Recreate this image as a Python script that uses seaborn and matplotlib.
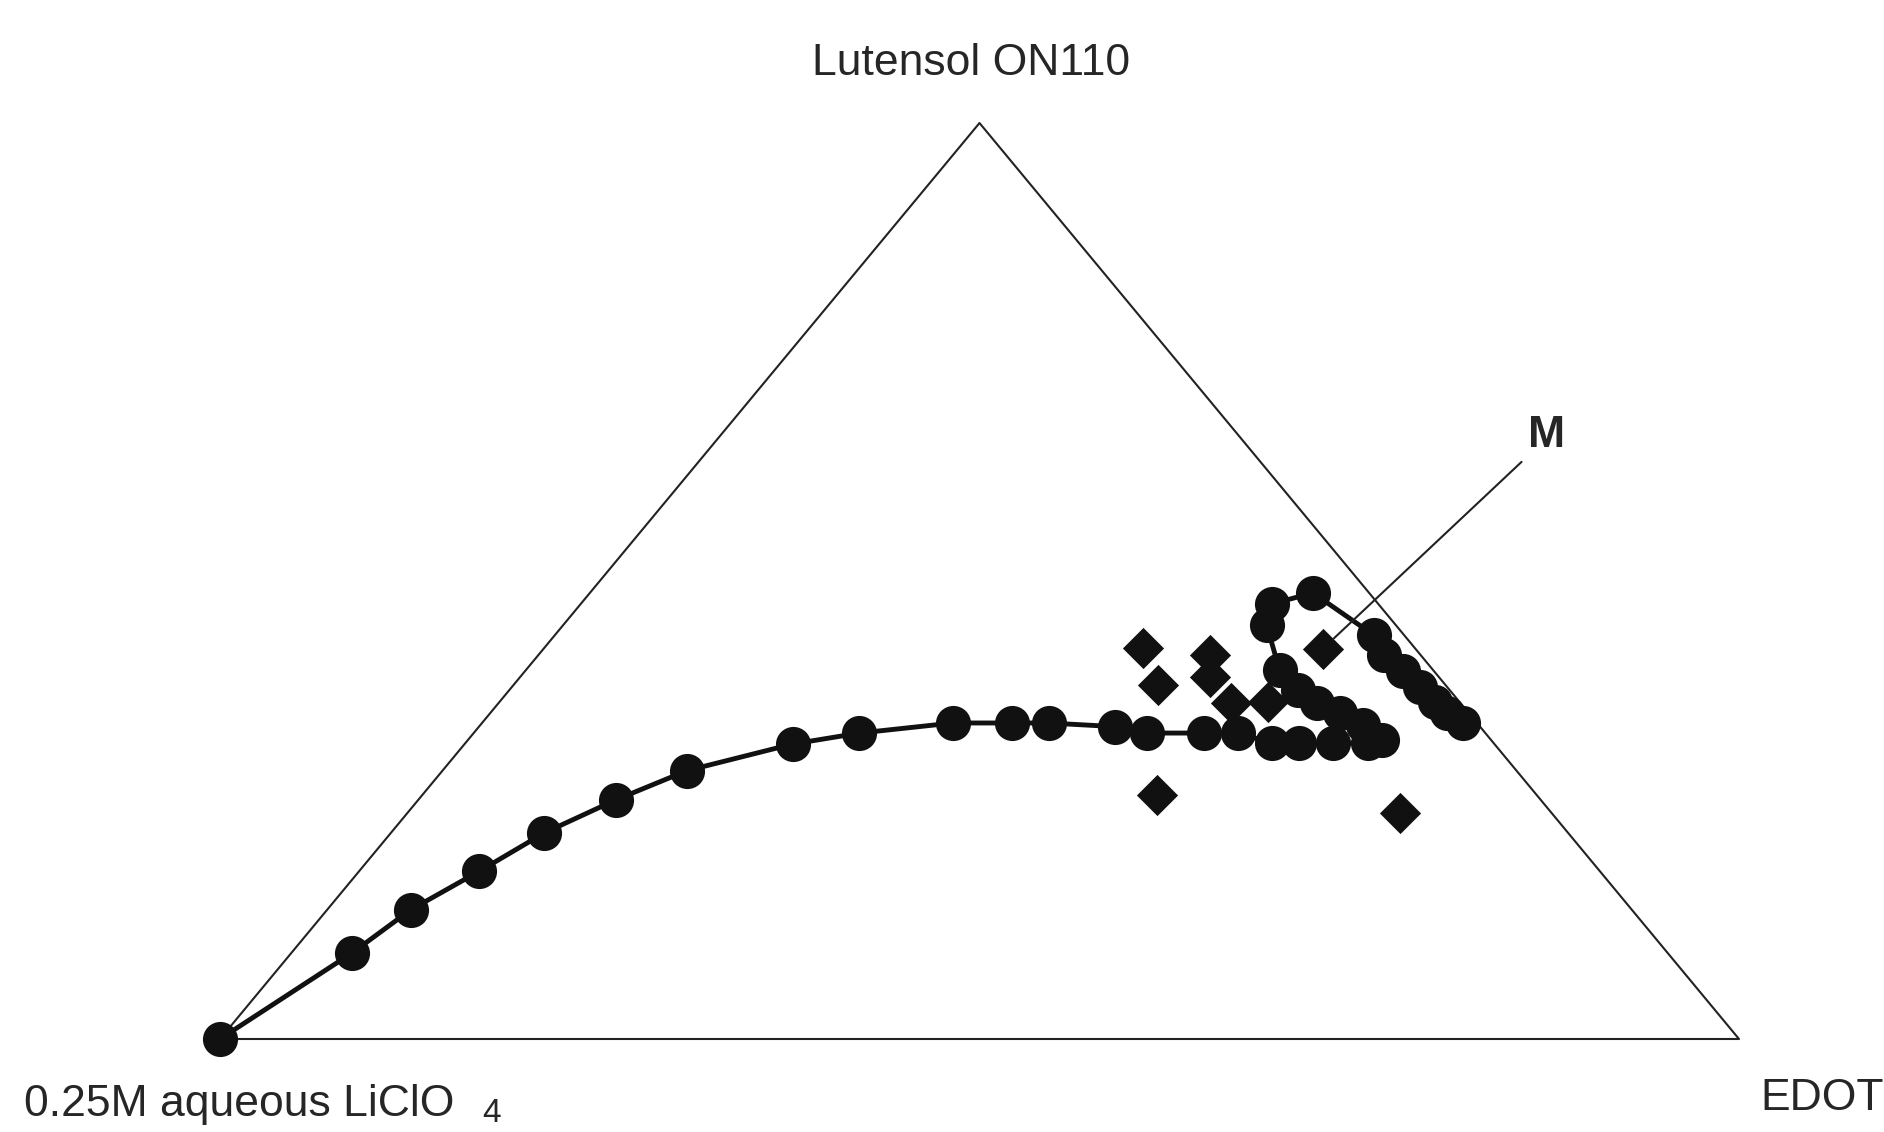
import numpy as np
import pandas as pd
import matplotlib
matplotlib.use("Agg")
import matplotlib.pyplot as plt
import seaborn as sns
from matplotlib import font_manager

# Ternary compositions in wt% (water = 100 - EDOT - Lutensol)
# Phase boundary curve
curve_edot = [0.0, 4.0, 5.5, 7.9, 10.1, 13.0, 16.1, 21.6, 25.4, 31.0, 34.9, 37.3,
              41.9, 44.3, 48.1, 50.3, 53.1, 54.9, 57.1, 59.4, 60.2,
              58.1, 55.9, 53.9, 51.9, 49.6, 46.3, 45.5, 47.6,
              53.9, 55.7, 57.8, 59.8, 61.6, 63.0, 64.6]
curve_lutensol = [0.0, 9.4, 14.1, 18.3, 22.5, 26.1, 29.3, 32.2, 33.4, 34.5, 34.5, 34.5,
                  34.1, 33.4, 33.4, 33.4, 32.3, 32.3, 32.3, 32.3, 32.6,
                  34.3, 35.6, 36.7, 38.1, 40.3, 45.2, 47.5, 48.7,
                  44.1, 41.9, 40.2, 38.4, 36.8, 35.6, 34.5]

# Single compositions (diamonds); index 6 is the one marked "M"
diamond_edot = [39.4, 42.4, 44.2, 45.4, 48.2, 50.6, 51.3, 48.4, 65.3]
diamond_lutensol = [42.7, 38.7, 41.9, 39.5, 36.7, 36.8, 42.6, 26.6, 24.7]
m_index = 6

corner_labels = ["Lutensol ON110", "0.25M aqueous LiClO", "EDOT"]


def to_xy(edot, lutensol):
    # water at the left corner, EDOT at the right, Lutensol at the top
    b = np.asarray(edot, dtype=float) / 100
    c = np.asarray(lutensol, dtype=float) / 100
    return b + c / 2, c


sns.set_style("white")
available = {f.name for f in font_manager.fontManager.ttflist}
if "Liberation Sans Narrow" in available:
    label_font, label_size = "Liberation Sans Narrow", 37
else:
    label_font, label_size = "Liberation Sans", 32
plt.rcParams["font.family"] = [label_font, "DejaVu Sans"]

cx, cy = to_xy(curve_edot, curve_lutensol)
dx, dy = to_xy(diamond_edot, diamond_lutensol)
curve = pd.DataFrame({"x": cx, "y": cy})
points = pd.DataFrame({"x": dx, "y": dy})

fig = plt.figure(figsize=(18.84, 11.32), dpi=100)
ax = fig.add_axes([220 / 1884, 93 / 1132, 1519 / 1884, 916 / 1132])

# triangle frame
tx, ty = to_xy([0, 100, 0, 0], [0, 0, 100, 0])
ax.plot(tx, ty, color="#222222", lw=1.5, clip_on=False, zorder=1)

sns.lineplot(data=curve, x="x", y="y", sort=False, estimator=None,
             color="#111111", lw=3.5, ax=ax, zorder=2, clip_on=False)
sns.scatterplot(data=curve, x="x", y="y", marker="o", s=640, color="#111111",
                linewidth=0, ax=ax, zorder=3, clip_on=False)
sns.scatterplot(data=points, x="x", y="y", marker="D", s=440, color="#111111",
                linewidth=0, ax=ax, zorder=3, clip_on=False)

ax.annotate("M", xy=(dx[m_index], dy[m_index]), xycoords="data",
            xytext=(0.861, 0.6365), textcoords="axes fraction",
            ha="left", va="bottom", fontsize=label_size, fontweight="bold",
            arrowprops=dict(arrowstyle="-", color="#222222", lw=1.5,
                            shrinkA=3, shrinkB=11, relpos=(0, 0)))

ax.set_xlim(0, 1)
ax.set_ylim(0, 1)
ax.set_axis_off()

fig.text(971 / 1884, (1132 - 75) / 1132, corner_labels[0], ha="center",
         va="baseline", fontsize=label_size)
fig.text(24 / 1884, (1132 - 1116) / 1132, corner_labels[1], ha="left",
         va="baseline", fontsize=label_size)
fig.text(482 / 1884, (1132 - 1122) / 1132, "4", ha="left",
         va="baseline", fontsize=label_size - 8)
fig.text(1760 / 1884, (1132 - 1110) / 1132, corner_labels[2], ha="left",
         va="baseline", fontsize=label_size)

fig.savefig("out.png", dpi=100, facecolor="white")
